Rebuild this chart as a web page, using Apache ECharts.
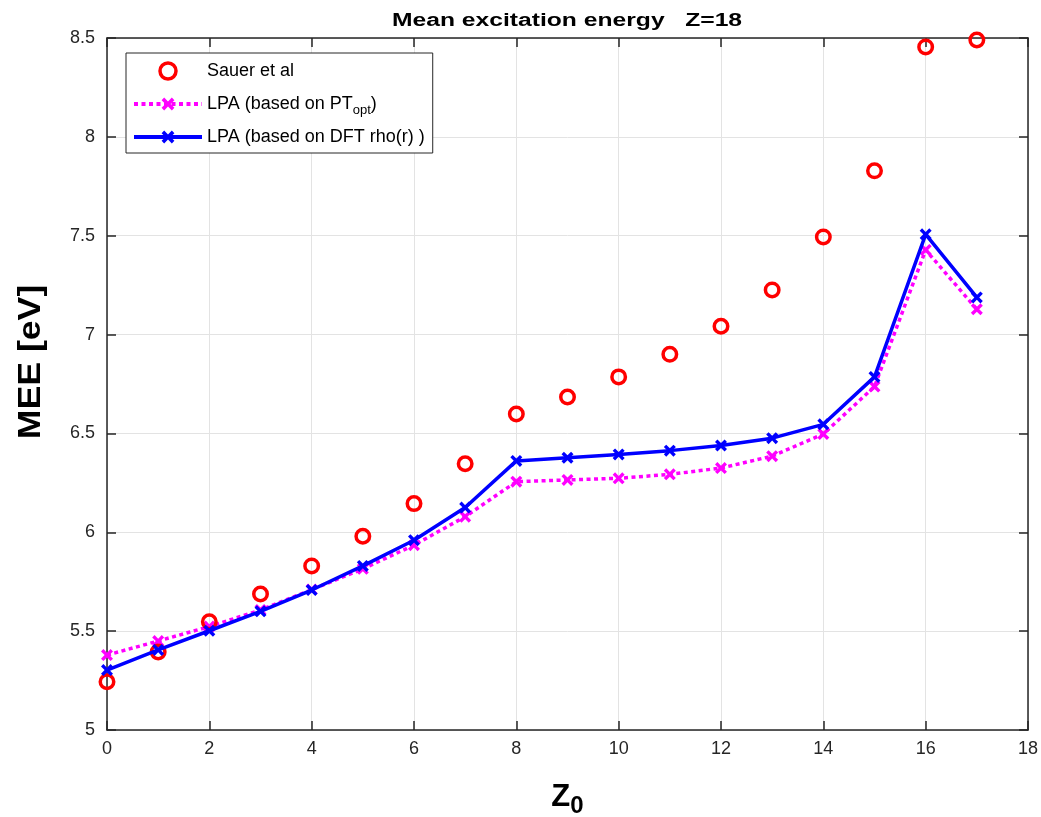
<!DOCTYPE html>
<html>
<head>
<meta charset="utf-8">
<script src="https://cdn.jsdelivr.net/npm/echarts@6/dist/echarts.min.js"></script>
<style>html,body{margin:0;padding:0;background:#fff}#c{width:1041px;height:817px}</style>
</head>
<body>
<div id="c"></div>
<script>
const z0 = [0,1,2,3,4,5,6,7,8,9,10,11,12,13,14,15,16,17];
const sauer = [5.244,5.395,5.547,5.688,5.83,5.98,6.145,6.347,6.598,6.684,6.786,6.90,7.042,7.226,7.494,7.828,8.455,8.49];
const lpaPT = [5.379,5.45,5.523,5.607,5.71,5.815,5.935,6.079,6.256,6.265,6.273,6.293,6.325,6.385,6.497,6.737,7.428,7.128];
const lpaDFT = [5.303,5.405,5.502,5.6,5.708,5.83,5.96,6.125,6.361,6.377,6.394,6.413,6.439,6.476,6.546,6.786,7.507,7.188];
const xTicks = {min:0, max:18, interval:2};
const yTicks = {min:5, max:8.5, interval:0.5};
const titleText = 'Mean excitation energy   Z=18';
const yName = 'MEE [eV]';

const FONT = 'Arial, "Liberation Sans", sans-serif';
const pairs = ys => z0.map((x,i)=>[x, ys[i]]);
const X_SYM = 'path://M2,0 L5,3 L8,0 L10,2 L7,5 L10,8 L8,10 L5,7 L2,10 L0,8 L3,5 L0,2 Z';
const axisCol = '#262626';
const chart = echarts.init(document.getElementById('c'));
const gridLine = {show:true, lineStyle:{color:'#e3e3e3', width:1}};
chart.setOption({
  animation:false,
  backgroundColor:'#fff',
  graphic:[
    {type:'text', x:567, y:21, scaleX:1.37, style:{text:titleText, font:'bold 18px ' + FONT, fill:'#000', textAlign:'center', textVerticalAlign:'middle'}},
    {type:'text', x:31, y:362, rotation:Math.PI/2, scaleX:1.15, style:{text:yName, font:'bold 31px ' + FONT, fill:'#000', textAlign:'center', textVerticalAlign:'middle'}}
  ],
  grid:{left:107, right:13, top:38, bottom:87, containLabel:false, outerBoundsMode:'none'},
  legend:{
    left:126, top:53, orient:'vertical', backgroundColor:'#fff',
    borderColor:'#262626', borderWidth:1, padding:[5,8,3,6],
    itemWidth:68, itemHeight:16, itemGap:7,
    textStyle:{fontFamily:FONT, fontSize:18, color:'#000', lineHeight:26,
      rich:{a:{fontFamily:FONT, fontSize:18, color:'#000', lineHeight:26},
            s:{fontFamily:FONT, fontSize:13, color:'#000', lineHeight:13, padding:[13,0,0,0]}}},
    formatter: n => n === 'PT' ? '{a|LPA (based on PT}{s|opt}{a|)}' : n,
    data:[
      {name:'Sauer et al', itemStyle:{color:'rgba(255,255,255,0)', borderColor:'#ff0000', borderWidth:3.5}},
      {name:'PT', lineStyle:{width:4}},
      {name:'LPA (based on DFT rho(r) )', lineStyle:{width:4}}
    ]
  },
  xAxis:[{
    type:'value', ...xTicks, position:'bottom',
    name:'{b|Z}{s|0}', nameLocation:'middle', nameGap:46,
    nameTextStyle:{rich:{b:{fontFamily:FONT, fontSize:31, fontWeight:'bold', color:'#000'}, s:{fontFamily:FONT, fontSize:24, fontWeight:'bold', color:'#000', padding:[18,0,0,0]}}},
    axisLine:{show:true, onZero:false, lineStyle:{color:axisCol, width:1.5}},
    axisTick:{show:true, inside:true, length:9, lineStyle:{color:axisCol, width:1.5}},
    axisLabel:{fontFamily:FONT, fontSize:18, color:axisCol, margin:10},
    splitLine:gridLine
  },{
    type:'value', ...xTicks, position:'top',
    axisLine:{show:true, onZero:false, lineStyle:{color:axisCol, width:1.5}},
    axisTick:{show:true, inside:true, length:9, lineStyle:{color:axisCol, width:1.5}},
    axisLabel:{show:false}, splitLine:{show:false}
  }],
  yAxis:[{
    type:'value', ...yTicks, position:'left',
    axisLine:{show:true, onZero:false, lineStyle:{color:axisCol, width:1.5}},
    axisTick:{show:true, inside:true, length:9, lineStyle:{color:axisCol, width:1.5}},
    axisLabel:{fontFamily:FONT, fontSize:18, color:axisCol, margin:12},
    splitLine:gridLine
  },{
    type:'value', ...yTicks, position:'right',
    axisLine:{show:true, onZero:false, lineStyle:{color:axisCol, width:1.5}},
    axisTick:{show:true, inside:true, length:9, lineStyle:{color:axisCol, width:1.5}},
    axisLabel:{show:false}, splitLine:{show:false}
  }],
  series:[
    {name:'Sauer et al', type:'scatter', data:pairs(sauer), symbol:'circle', symbolSize:13.5,
      itemStyle:{color:'rgba(255,255,255,0)', borderColor:'#ff0000', borderWidth:3.5, opacity:1}, z:3},
    {name:'PT', type:'line', data:pairs(lpaPT), symbol:X_SYM, symbolSize:12, showSymbol:true,
      lineStyle:{color:'#ff00ff', width:3.5, type:[4,3.5]}, itemStyle:{color:'#ff00ff'}, z:2},
    {name:'LPA (based on DFT rho(r) )', type:'line', data:pairs(lpaDFT), symbol:X_SYM, symbolSize:12, showSymbol:true,
      lineStyle:{color:'#0000ff', width:3.5}, itemStyle:{color:'#0000ff'}, z:4}
  ]
});
</script>
</body>
</html>
